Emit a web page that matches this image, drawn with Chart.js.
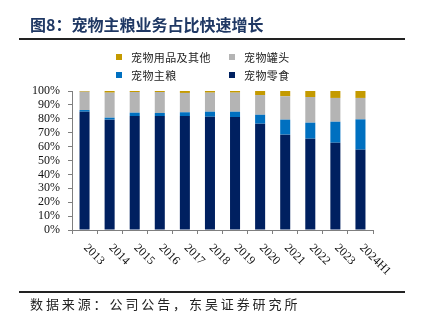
<!DOCTYPE html>
<html lang="zh">
<head>
<meta charset="UTF-8">
<title>宠物主粮业务占比</title>
<script src="https://cdn.jsdelivr.net/npm/chart.js"></script>
<style>
    body { margin: 0; background: #fff; }
    .wrap { position: relative; width: 422px; height: 322px; overflow: hidden; }
    #chart { position: absolute; left: 0; top: 0; }
    .title {
        position: absolute; left: 30px; top: 13px;
        font: 700 16px "Noto Sans CJK SC", sans-serif; color: #1f3864;
        line-height: 22px; white-space: nowrap;
    }
    .rule { position: absolute; left: 19px; width: 386px; height: 2px; background: #222; }
    .legend {
        position: absolute; left: 116px; top: 50px;
        display: grid; grid-template-columns: 113px 110px; row-gap: 5px;
        font: 11px "Noto Sans CJK SC", sans-serif; color: #222; letter-spacing: 0.4px;
    }
    .legend div { display: flex; align-items: center; height: 13px; white-space: nowrap; }
    .legend span.box { width: 6px; height: 6px; margin-right: 9px; display: inline-block; }
    .source {
        position: absolute; left: 30px; top: 294px;
        font: 13px "Noto Sans CJK SC", sans-serif; color: #222; letter-spacing: 2.9px;
        white-space: nowrap;
    }
</style>
</head>
<body>
<div class="wrap">
    <canvas id="chart" width="422" height="322"></canvas>
    <div class="title">图8：宠物主粮业务占比快速增长</div>
    <div class="rule" style="top:38px"></div>
    <div class="legend" id="legend"></div>
    <div class="rule" style="top:291px"></div>
    <div class="source">数据来源：公司公告，东吴证券研究所</div>
</div>
<script>
    // 年份
    const years = ["2013", "2014", "2015", "2016", "2017", "2018", "2019", "2020", "2021", "2022", "2023", "2024H1"];
    // 各业务占比（%）
    const snacks = [85.1, 79.4, 82.0, 82.0, 82.0, 81.5, 81.3, 76.5, 68.6, 65.7, 62.8, 57.8];
    const staple = [1.2, 1.4, 2.4, 2.2, 2.7, 3.6, 3.8, 6.4, 10.8, 11.5, 15.1, 21.8];
    const canned = [13.2, 18.0, 14.9, 15.1, 13.9, 13.7, 13.7, 14.2, 16.8, 18.5, 17.1, 15.4];
    const supplies = [0.5, 1.2, 0.7, 0.7, 1.4, 1.2, 1.2, 2.9, 3.8, 4.3, 5.0, 5.0];

    const serif = "'Liberation Serif', 'Times New Roman', serif";

    function series(label, data, color) {
        return {
            label: label,
            data: data,
            backgroundColor: color,
            borderWidth: 0,
            barPercentage: 0.4,
            categoryPercentage: 1
        };
    }

    // 斜向下的年份标签
    const slantLabels = {
        id: "slantLabels",
        afterDraw(chart) {
            const ctx = chart.ctx;
            const xs = chart.scales.x;
            ctx.save();
            ctx.font = "12px " + serif;
            ctx.fillStyle = "#111";
            ctx.textAlign = "left";
            ctx.textBaseline = "middle";
            chart.data.labels.forEach((lab, i) => {
                const x = xs.getPixelForTick(i);
                ctx.save();
                ctx.translate(x + 1, xs.top + 16);
                ctx.rotate(Math.PI / 4);
                ctx.fillText(lab, 0, 0);
                ctx.restore();
            });
            ctx.restore();
        }
    };

    const chart = new Chart(document.getElementById("chart"), {
        type: "bar",
        data: {
            labels: years,
            datasets: [
                series("宠物零食", snacks, "#002060"),
                series("宠物主粮", staple, "#0070c0"),
                series("宠物罐头", canned, "#b4b4b4"),
                series("宠物用品及其他", supplies, "#c49a00")
            ]
        },
        options: {
            responsive: false,
            animation: false,
            layout: { padding: { left: 0, right: 49, top: 91, bottom: 0 } },
            plugins: { legend: { display: false }, tooltip: { enabled: false } },
            scales: {
                x: {
                    stacked: true,
                    afterFit(scale) { scale.height = 92; },
                    grid: { display: true, drawOnChartArea: false, drawTicks: true, tickLength: 4, color: "#7f7f7f", offset: true },
                    border: { display: true, color: "#7f7f7f" },
                    ticks: { display: false }
                },
                y: {
                    stacked: true,
                    min: 0,
                    max: 100,
                    afterFit(scale) { scale.width = 72; },
                    grid: { display: true, drawOnChartArea: false, drawTicks: true, tickLength: 4, color: "#7f7f7f" },
                    border: { display: true, color: "#7f7f7f" },
                    ticks: {
                        stepSize: 10,
                        autoSkip: false,
                        padding: 8,
                        color: "#111",
                        font: { family: serif, size: 12, lineHeight: 1 },
                        callback: v => v + "%"
                    }
                }
            }
        },
        plugins: [slantLabels]
    });

    // 图例：两列，自上而下与堆叠顺序相反
    const legendEl = document.getElementById("legend");
    [3, 2, 1, 0].forEach(i => {
        const ds = chart.data.datasets[i];
        const item = document.createElement("div");
        item.innerHTML = '<span class="box" style="background:' + ds.backgroundColor + '"></span>' + ds.label;
        legendEl.appendChild(item);
    });
</script>
</body>
</html>
